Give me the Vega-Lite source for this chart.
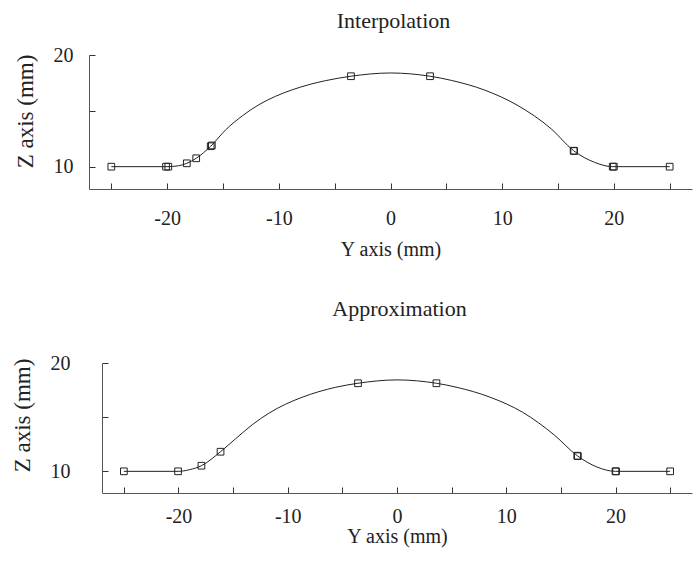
{
  "$schema": "https://vega.github.io/schema/vega-lite/v6.json",
  "padding": {"left": 11, "top": 10, "right": 5, "bottom": 5},
  "spacing": 39,
  "columns": 1,
  "config": {
    "font": "Liberation Serif",
    "view": {"stroke": null},
    "title": {"font": "Liberation Serif", "fontSize": 22, "fontWeight": "normal", "color": "#222", "anchor": "middle"},
    "axis": {
      "domainColor": "#555", "tickColor": "#333", "tickSize": -6, "grid": false,
      "labelFont": "Liberation Serif", "labelFontSize": 20, "labelColor": "#222",
      "titleFont": "Liberation Serif", "titleFontWeight": "normal", "titleColor": "#222"
    }
  },
  "datasets": {
    "interp_curve": [
      {"Y": -25, "Z": 10}, {"Y": -20, "Z": 10}, {"Y": -19, "Z": 10.08}, {"Y": -18.24, "Z": 10.3},
      {"Y": -17.4, "Z": 10.75}, {"Y": -16.1, "Z": 11.83}, {"Y": -14.76, "Z": 13.3}, {"Y": -13.27, "Z": 14.55},
      {"Y": -11.79, "Z": 15.55}, {"Y": -10.3, "Z": 16.3}, {"Y": -8.81, "Z": 16.88}, {"Y": -7.32, "Z": 17.34},
      {"Y": -5.83, "Z": 17.7}, {"Y": -3.54, "Z": 18.1}, {"Y": 0, "Z": 18.39}, {"Y": 3.54, "Z": 18.1},
      {"Y": 5.48, "Z": 17.72}, {"Y": 8.45, "Z": 16.85}, {"Y": 11.43, "Z": 15.46}, {"Y": 14.4, "Z": 13.38},
      {"Y": 16.4, "Z": 11.43}, {"Y": 18.27, "Z": 10.39}, {"Y": 19.9, "Z": 10}, {"Y": 25, "Z": 10}
    ],
    "interp_pts": [
      {"Y": -25, "Z": 10}, {"Y": -20.1, "Z": 10}, {"Y": -19.9, "Z": 10}, {"Y": -18.24, "Z": 10.3},
      {"Y": -17.4, "Z": 10.75}, {"Y": -16.1, "Z": 11.83}, {"Y": -16.0, "Z": 11.9}, {"Y": -3.54, "Z": 18.1},
      {"Y": 3.54, "Z": 18.1}, {"Y": 16.4, "Z": 11.43}, {"Y": 16.45, "Z": 11.4}, {"Y": 19.9, "Z": 10},
      {"Y": 20.0, "Z": 10}, {"Y": 25, "Z": 10}
    ],
    "approx_curve": [
      {"Y": -25, "Z": 10}, {"Y": -20.04, "Z": 10}, {"Y": -19, "Z": 10.15}, {"Y": -17.9, "Z": 10.52},
      {"Y": -16.15, "Z": 11.81}, {"Y": -14.78, "Z": 13.0}, {"Y": -13.25, "Z": 14.3}, {"Y": -11.72, "Z": 15.37},
      {"Y": -10.19, "Z": 16.2}, {"Y": -8.67, "Z": 16.84}, {"Y": -7.14, "Z": 17.36}, {"Y": -5.61, "Z": 17.76},
      {"Y": -3.57, "Z": 18.13}, {"Y": 0, "Z": 18.44}, {"Y": 3.61, "Z": 18.13}, {"Y": 5.5, "Z": 17.75},
      {"Y": 8.5, "Z": 16.85}, {"Y": 11.5, "Z": 15.45}, {"Y": 14.4, "Z": 13.35}, {"Y": 16.5, "Z": 11.44},
      {"Y": 18.3, "Z": 10.4}, {"Y": 20, "Z": 10}, {"Y": 25, "Z": 10}
    ],
    "approx_pts": [
      {"Y": -25, "Z": 10}, {"Y": -20.04, "Z": 10}, {"Y": -17.9, "Z": 10.52}, {"Y": -16.15, "Z": 11.81},
      {"Y": -3.57, "Z": 18.13}, {"Y": 3.61, "Z": 18.13}, {"Y": 16.5, "Z": 11.44}, {"Y": 16.55, "Z": 11.4},
      {"Y": 20, "Z": 10}, {"Y": 20.05, "Z": 10}, {"Y": 25, "Z": 10}
    ]
  },
  "concat": [
    {
      "title": {"text": "Interpolation", "offset": 12, "dx": 3},
      "width": 603,
      "height": 134,
      "layer": [
        {
          "data": {"name": "interp_curve"},
          "mark": {"type": "line", "interpolate": "monotone", "color": "#222", "strokeWidth": 1},
          "encoding": {
            "x": {"field": "Y", "type": "quantitative", "scale": {"domain": [-27, 27], "nice": false},
              "axis": {"title": "Y axis (mm)", "titleFontSize": 20, "values": [-25, -20, -15, -10, -5, 0, 5, 10, 15, 20, 25],
                "labelExpr": "datum.value % 10 === 0 ? '' + datum.value : ''", "labelPadding": 25, "titlePadding": 11}},
            "y": {"field": "Z", "type": "quantitative", "scale": {"domain": [8, 20], "nice": false, "zero": false},
              "axis": {"title": "Z axis (mm)", "titleFontSize": 23, "titleY": 56, "values": [10, 15, 20],
                "labelExpr": "datum.value % 10 === 0 ? '' + datum.value : ''", "labelPadding": 22, "titlePadding": 16}}
          }
        },
        {
          "data": {"name": "interp_pts"},
          "mark": {"type": "point", "shape": "square", "filled": false, "stroke": "#222", "strokeWidth": 1, "size": 45, "opacity": 1},
          "encoding": {
            "x": {"field": "Y", "type": "quantitative"},
            "y": {"field": "Z", "type": "quantitative"}
          }
        }
      ]
    },
    {
      "title": {"text": "Approximation", "offset": 32, "dx": 9},
      "width": 603,
      "height": 130,
      "layer": [
        {
          "data": {"name": "approx_curve"},
          "mark": {"type": "line", "interpolate": "monotone", "color": "#222", "strokeWidth": 1},
          "encoding": {
            "x": {"field": "Y", "type": "quantitative", "scale": {"domain": [-27, 27], "nice": false, "range": [13, 603]},
              "axis": {"title": "Y axis (mm)", "titleFontSize": 20, "values": [-25, -20, -15, -10, -5, 0, 5, 10, 15, 20, 25],
                "labelExpr": "datum.value % 10 === 0 ? '' + datum.value : ''", "labelPadding": 19, "titlePadding": 0}},
            "y": {"field": "Z", "type": "quantitative", "scale": {"domain": [8, 20], "nice": false, "zero": false},
              "axis": {"title": "Z axis (mm)", "titleFontSize": 23, "titleY": 52, "offset": -13, "values": [10, 15, 20],
                "labelExpr": "datum.value % 10 === 0 ? '' + datum.value : ''", "labelPadding": 38, "titlePadding": 16}}
          }
        },
        {
          "data": {"name": "approx_pts"},
          "mark": {"type": "point", "shape": "square", "filled": false, "stroke": "#222", "strokeWidth": 1, "size": 45, "opacity": 1},
          "encoding": {
            "x": {"field": "Y", "type": "quantitative"},
            "y": {"field": "Z", "type": "quantitative"}
          }
        }
      ]
    }
  ]
}
